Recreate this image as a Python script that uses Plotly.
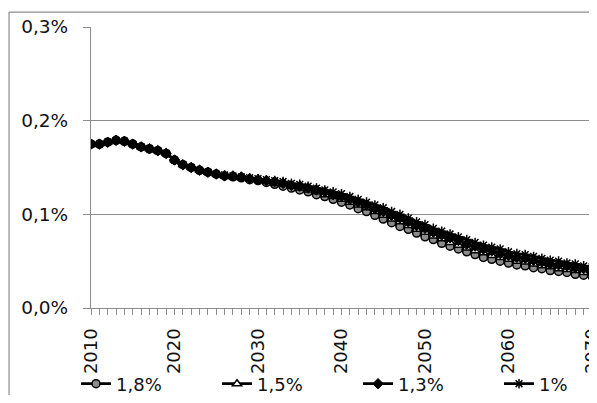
import plotly.graph_objects as go

years = list(range(2010, 2071))

s18 = [0.175, 0.175, 0.177, 0.179, 0.178, 0.175, 0.172, 0.170, 0.168, 0.165,
       0.158, 0.153, 0.150, 0.147, 0.145, 0.143, 0.141, 0.140, 0.139, 0.137,
       0.136, 0.134, 0.132, 0.130, 0.128, 0.126, 0.124, 0.121, 0.119, 0.116,
       0.113, 0.110, 0.106, 0.103, 0.099, 0.095, 0.091, 0.087, 0.084, 0.080,
       0.076, 0.073, 0.069, 0.066, 0.063, 0.060, 0.057, 0.054, 0.052, 0.050,
       0.048, 0.046, 0.045, 0.043, 0.042, 0.040, 0.039, 0.038, 0.036, 0.035,
       0.034]

s15 = [0.175, 0.175, 0.177, 0.179, 0.178, 0.175, 0.172, 0.170, 0.168, 0.165,
       0.158, 0.153, 0.150, 0.147, 0.145, 0.143, 0.141, 0.140, 0.139, 0.138,
       0.137, 0.135, 0.133, 0.132, 0.130, 0.128, 0.126, 0.124, 0.121, 0.119,
       0.116, 0.113, 0.110, 0.107, 0.103, 0.099, 0.095, 0.092, 0.088, 0.084,
       0.081, 0.077, 0.074, 0.070, 0.067, 0.064, 0.061, 0.059, 0.056, 0.054,
       0.052, 0.050, 0.049, 0.047, 0.045, 0.044, 0.042, 0.041, 0.040, 0.038,
       0.037]

s13 = [0.175, 0.175, 0.177, 0.179, 0.178, 0.175, 0.172, 0.170, 0.168, 0.165,
       0.158, 0.153, 0.150, 0.147, 0.145, 0.143, 0.141, 0.141, 0.140, 0.138,
       0.137, 0.136, 0.135, 0.133, 0.131, 0.130, 0.128, 0.126, 0.124, 0.121,
       0.119, 0.116, 0.113, 0.110, 0.106, 0.103, 0.099, 0.096, 0.092, 0.088,
       0.085, 0.081, 0.078, 0.075, 0.072, 0.068, 0.066, 0.063, 0.061, 0.058,
       0.056, 0.054, 0.053, 0.051, 0.049, 0.047, 0.046, 0.045, 0.043, 0.042,
       0.040]

s10 = [0.175, 0.175, 0.177, 0.179, 0.178, 0.175, 0.172, 0.170, 0.168, 0.165,
       0.158, 0.153, 0.150, 0.147, 0.145, 0.143, 0.142, 0.141, 0.140, 0.139,
       0.138, 0.137, 0.136, 0.135, 0.133, 0.132, 0.130, 0.128, 0.126, 0.124,
       0.122, 0.119, 0.116, 0.113, 0.110, 0.107, 0.103, 0.100, 0.096, 0.092,
       0.089, 0.085, 0.082, 0.079, 0.076, 0.073, 0.070, 0.067, 0.065, 0.063,
       0.060, 0.058, 0.057, 0.055, 0.053, 0.051, 0.050, 0.048, 0.047, 0.045,
       0.044]

series_names = ["1,8%", "1,5%", "1,3%", "1%"]
series_values = [s18, s15, s13, s10]

y_tickvals = [0.0, 0.1, 0.2, 0.3]
y_ticktext = ["0,0%", "0,1%", "0,2%", "0,3%"]
x_tickvals = [2010, 2020, 2030, 2040, 2050, 2060, 2070]
x_ticktext = ["2010", "2020", "2030", "2040", "2050", "2060", "2070"]

markers = [
    dict(symbol="circle", size=8, color="#8c8c8c", line=dict(color="#000000", width=1.5)),
    dict(symbol="triangle-up", size=8, color="#ffffff", line=dict(color="#000000", width=1.5)),
    dict(symbol="diamond", size=8, color="#000000", line=dict(color="#000000", width=1)),
    dict(symbol="asterisk-open", size=8, color="#000000", line=dict(color="#000000", width=1.5)),
]

FONT = "Verdana, DejaVu Sans, sans-serif"
GRID = "#8c8c8c"

fig = go.Figure()
for name, vals, mk in zip(series_names, series_values, markers):
    fig.add_trace(go.Scatter(
        x=years, y=vals, name=name, mode="lines+markers",
        line=dict(color="#000000", width=2.8),
        marker=mk,
    ))

# The page body has an 8px margin, so the figure is placed at (8, 8).
fig.update_layout(
    width=589, height=387,
    margin=dict(l=83, r=0, t=19, b=87, autoexpand=False),
    paper_bgcolor="white", plot_bgcolor="white",
    font=dict(family=FONT, size=18, color="#111111"),
    showlegend=True,
    legend=dict(orientation="h", x=-0.0296, xanchor="left", y=-0.2705, yanchor="middle",
                entrywidth=96, entrywidthmode="pixels", font=dict(size=18),
                bgcolor="rgba(0,0,0,0)", tracegroupgap=0),
    shapes=[
        dict(type="line", xref="paper", yref="paper", x0=-0.162, x1=-0.162, y0=1.053, y1=-0.4,
             line=dict(color="#8c8c8c", width=1.2)),
        dict(type="line", xref="paper", yref="paper", x0=-0.162, x1=1.1, y0=1.053, y1=1.053,
             line=dict(color="#8c8c8c", width=1.2)),
    ],
)

fig.update_xaxes(
    range=[2010, 2070.6], tickvals=x_tickvals, ticktext=x_ticktext, tickangle=-90,
    ticks="outside", ticklen=6, tickcolor=GRID, tickwidth=1,
    minor=dict(dtick=1, tick0=2010, ticks="outside", ticklen=6, tickcolor=GRID, tickwidth=1, showgrid=False),
    showline=True, linecolor=GRID, linewidth=1.2, showgrid=False, zeroline=False,
    tickfont=dict(size=18), ticklabelstandoff=6, automargin=False, ticklabeloverflow="allow",
)
fig.update_yaxes(
    range=[0, 0.3], tickvals=y_tickvals, ticktext=y_ticktext,
    ticks="outside", ticklen=7, tickcolor=GRID, tickwidth=1,
    showline=True, linecolor=GRID, linewidth=1.2, showgrid=True, gridcolor=GRID, gridwidth=1.2,
    zeroline=False, tickfont=dict(size=18.5), ticklabelstandoff=11, automargin=False,
)

fig.write_html("out.html")
